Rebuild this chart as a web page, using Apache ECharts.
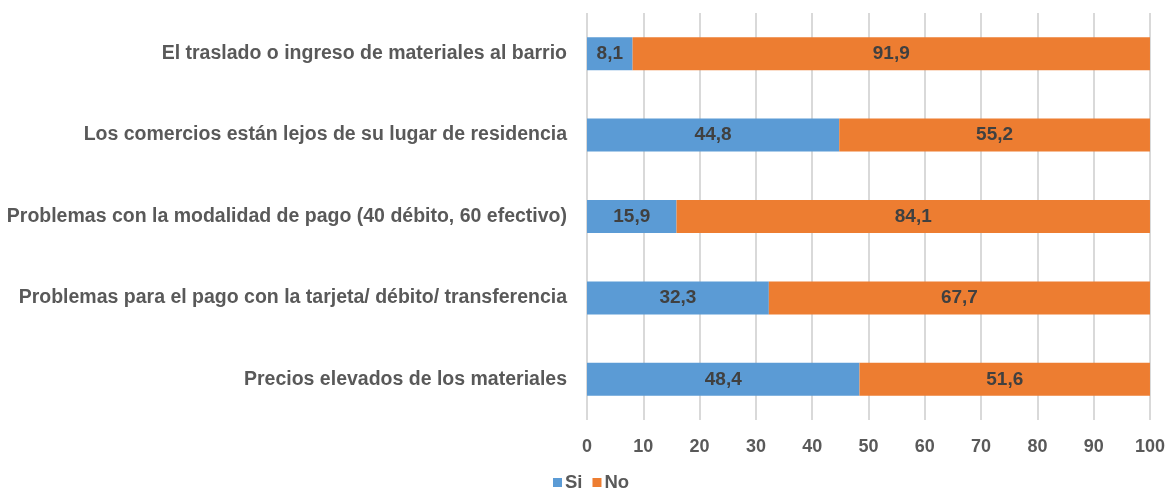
<!DOCTYPE html>
<html>
<head>
<meta charset="utf-8">
<script src="https://cdn.jsdelivr.net/npm/echarts@6/dist/echarts.min.js"></script>
<style>
  html, body { margin: 0; padding: 0; background: #ffffff; }
  #chart { width: 1168px; height: 488px; }
</style>
</head>
<body>
<div id="chart"></div>
<script>
// Categories listed bottom to top (ECharts category axis runs upward)
const categories = [
  'Precios elevados de los materiales',
  'Problemas para el pago con la tarjeta/ débito/ transferencia',
  'Problemas con la modalidad de pago (40 débito, 60 efectivo)',
  'Los comercios están lejos de su lugar de residencia',
  'El traslado o ingreso de materiales al barrio'
];
const siValues = [48.4, 32.3, 15.9, 44.8, 8.1];
const noValues = [51.6, 67.7, 84.1, 55.2, 91.9];
const seriesNames = ['Si', 'No'];

const textColor = '#595959';
const fontFamily = '"Liberation Sans", Arial, sans-serif';

const chart = echarts.init(document.getElementById('chart'), null, { renderer: 'canvas' });

const labelFmt = p => p.value.toFixed(1).replace('.', ',');

const barLabel = {
  show: true,
  position: 'inside',
  color: '#404040',
  fontSize: 19,
  fontWeight: 'bold',
  formatter: labelFmt,
  fontFamily: fontFamily
};

chart.setOption({
  animation: false,
  textStyle: { fontFamily: fontFamily },
  grid: { left: 587, right: 17, top: 13, bottom: 68, containLabel: false },
  legend: {
    data: seriesNames,
    left: 548,
    top: 468,
    itemWidth: 9,
    itemHeight: 9,
    itemGap: 10,
    icon: 'rect',
    textStyle: { color: textColor, fontSize: 18.5, fontWeight: 'bold', fontFamily: fontFamily, padding: [0, 0, 0, -2] }
  },
  xAxis: {
    type: 'value',
    min: 0,
    max: 100,
    interval: 10,
    axisLine: { show: false },
    axisTick: { show: false },
    axisLabel: { color: textColor, fontSize: 18, fontWeight: 'bold', margin: 18, fontFamily: fontFamily },
    splitLine: { show: true, lineStyle: { color: '#d9d9d9', width: 2 } }
  },
  yAxis: {
    type: 'category',
    data: categories,
    axisLine: { show: false },
    axisTick: { show: false },
    axisLabel: { color: textColor, fontSize: 19.5, fontWeight: 'bold', margin: 20, fontFamily: fontFamily }
  },
  series: [
    {
      name: seriesNames[0],
      type: 'bar',
      stack: 'total',
      data: siValues,
      barWidth: 33,
      itemStyle: { color: '#5B9BD5' },
      label: barLabel
    },
    {
      name: seriesNames[1],
      type: 'bar',
      stack: 'total',
      data: noValues,
      barWidth: 33,
      itemStyle: { color: '#ED7D31' },
      label: barLabel
    }
  ]
});
</script>
</body>
</html>
